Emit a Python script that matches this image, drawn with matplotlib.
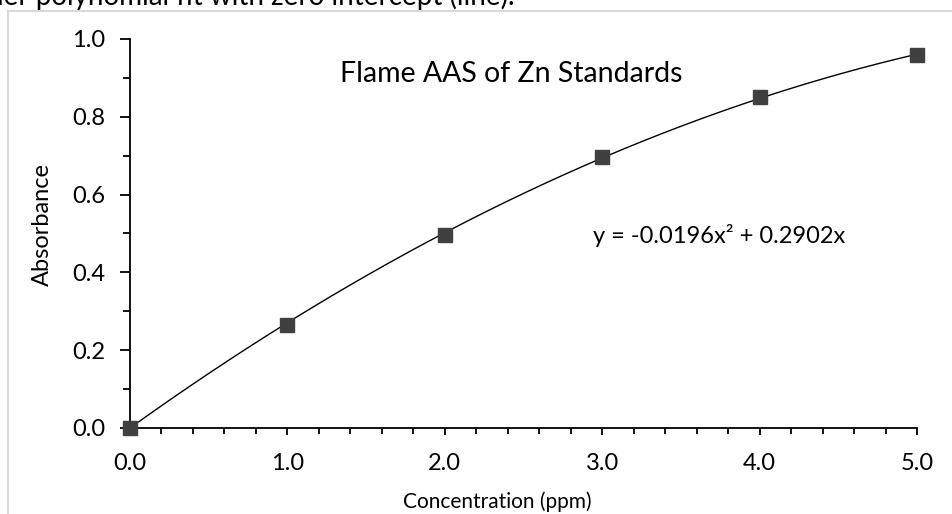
import numpy as np
import matplotlib.pyplot as plt
from matplotlib.ticker import MultipleLocator, FormatStrFormatter
from matplotlib.patches import Rectangle

plt.rcParams['font.family'] = ['Lato', 'DejaVu Sans']

# standards
conc = [0.0, 1.0, 2.0, 3.0, 4.0, 5.0]
absorb = [0.0, 0.266, 0.497, 0.696, 0.850, 0.958]

# trendline coefficients (2nd order, zero intercept)
coef = [-0.0196, 0.2902, 0.0]

title = "Flame AAS of Zn Standards"
eq_text = "y = -0.0196x\u00b2 + 0.2902x"
caption = "der polynomial fit with zero intercept (line)."

W, H = 952, 514
fig = plt.figure(figsize=(W / 100, H / 100), dpi=100)

# light gray frame of the chart area, cut off at right and bottom
fig.patches.append(Rectangle((8 / W, -0.05), 1.1, 1 - 11 / H + 0.05,
                             transform=fig.transFigure, fill=False,
                             edgecolor='#d9d9d9', linewidth=1.5))
fig.text(-12 / W, 1 - 5 / H, caption, fontsize=20, ha='left', va='baseline')

ax = fig.add_axes([130 / W, 1 - 428 / H, 787 / W, 389 / H])

xs = np.linspace(0, 5, 200)
ax.plot(xs, np.polyval(coef, xs), color='black', lw=1.0, zorder=2)
ax.plot(conc, absorb, ls='none', marker='s', markersize=10,
        color='#404040', zorder=3, clip_on=False)

ax.set_xlim(0, 5)
ax.set_ylim(0, 1)
for s in ['top', 'right']:
    ax.spines[s].set_visible(False)
for s in ['left', 'bottom']:
    ax.spines[s].set_linewidth(1.3)

ax.xaxis.set_major_locator(MultipleLocator(1.0))
ax.xaxis.set_minor_locator(MultipleLocator(0.2))
ax.yaxis.set_major_locator(MultipleLocator(0.2))
ax.yaxis.set_minor_locator(MultipleLocator(0.1))
ax.xaxis.set_major_formatter(FormatStrFormatter('%.1f'))
ax.yaxis.set_major_formatter(FormatStrFormatter('%.1f'))
ax.tick_params(axis='both', which='major', labelsize=17, width=1.3)
ax.tick_params(axis='x', which='major', length=5, pad=13)
ax.tick_params(axis='x', which='minor', length=4, width=1.3)
ax.tick_params(axis='y', which='major', length=7, pad=11)
ax.tick_params(axis='y', which='minor', length=5, width=1.3)

ax.text(0.484, 0.91, title, transform=ax.transAxes, fontsize=20.5,
        ha='center', va='center')
ax.text(0.588, 0.496, eq_text, transform=ax.transAxes, fontsize=17,
        ha='left', va='center')

fig.text(497 / W, 1 - 502 / H, "Concentration (ppm)", fontsize=15,
         ha='center', va='center')
fig.text(42 / W, 1 - 225 / H, "Absorbance", fontsize=17, rotation=90,
         ha='center', va='center')

fig.savefig('out.png', dpi=100)
